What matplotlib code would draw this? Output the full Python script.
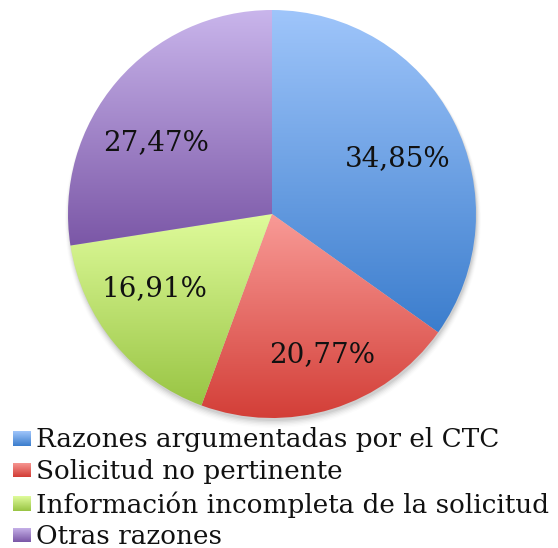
import numpy as np
import matplotlib
matplotlib.use("Agg")
import matplotlib.pyplot as plt
from matplotlib.colors import LinearSegmentedColormap
from matplotlib.patches import Circle, Rectangle

categories = ["Razones argumentadas por el CTC", "Solicitud no pertinente",
              "Información incompleta de la solicitud", "Otras razones"]
values = [34.85, 20.77, 16.91, 27.47]
labels = ["34,85%", "20,77%", "16,91%", "27,47%"]
top_colors = ["#A0C6FB", "#F99C98", "#E0FC9C", "#CAB6EC"]
bottom_colors = ["#3B7DCD", "#D23C35", "#98C443", "#7A56A6"]

# label layout (Excel "best fit" style placement)
label_angle_shift = [-3.6, 2.65, -7.1, 9.0]
label_dist = [0.672, 0.732, 0.681, 0.667]

W, H = 558, 548
fig = plt.figure(figsize=(W / 100, H / 100), dpi=100)
ax = fig.add_axes([0, 0, 1, 1])

cx, cy, R = 272, H - 214, 204
font = "DejaVu Serif"

# soft shadow
for i, a in enumerate(np.linspace(0.05, 0.01, 6)):
    ax.add_patch(Circle((cx + 1, cy - 3 - i * 0.6), R + i * 0.8, color="black",
                        alpha=a, lw=0, zorder=0))

wedges, _ = ax.pie(values, center=(cx, cy), radius=R, startangle=90,
                   counterclock=False, frame=True,
                   wedgeprops=dict(linewidth=0, zorder=2))

grad = np.linspace(0, 1, 256).reshape(-1, 1)
for w, tc, bc in zip(wedges, top_colors, bottom_colors):
    verts = w.get_patch_transform().transform(w.get_path().vertices)
    y0, y1 = verts[:, 1].min(), verts[:, 1].max()
    x0, x1 = verts[:, 0].min(), verts[:, 0].max()
    cmap = LinearSegmentedColormap.from_list("g", [tc, bc])
    w.set_facecolor("none")
    im = ax.imshow(grad, cmap=cmap, extent=[x0 - 2, x1 + 2, y0 - 2, y1 + 2],
                   origin="upper", aspect="auto", zorder=1, interpolation="bilinear")
    im.set_clip_path(w)

# percentage labels
for w, lab, sh, dd in zip(wedges, labels, label_angle_shift, label_dist):
    theta = np.deg2rad((w.theta1 + w.theta2) / 2 + sh)
    d = dd * R
    ax.text(cx + d * np.cos(theta), cy + d * np.sin(theta), lab, fontsize=20,
            family=font, ha="center", va="center", color="#111111", zorder=5)

# legend
sq = 18
ys = [438.5, 470, 503.5, 535]
for yc, cat, tc, bc in zip(ys, categories, top_colors, bottom_colors):
    y = H - yc
    rect = Rectangle((13, y - 7.5), sq, 15, facecolor="none", lw=0)
    ax.add_patch(rect)
    cmap = LinearSegmentedColormap.from_list("g", [tc, bc])
    im = ax.imshow(grad, cmap=cmap, extent=[13, 13 + sq, y - 7.5, y + 7.5],
                   origin="upper", aspect="auto", zorder=3)
    im.set_clip_path(rect)
    ax.text(36, y - 1, cat, fontsize=18.9, family=font, ha="left", va="center",
            color="#111111")

ax.set_xlim(0, W)
ax.set_ylim(0, H)
ax.set_aspect("equal")
ax.axis("off")

fig.savefig("out.png", dpi=100)
